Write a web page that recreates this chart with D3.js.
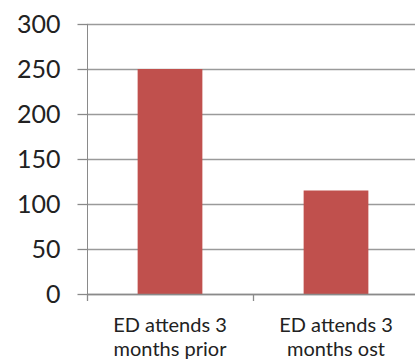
<!DOCTYPE html>
<html>
<head>
<meta charset="utf-8">
<script src="https://cdn.jsdelivr.net/npm/d3@7"></script>
<style>
  body { margin: 0; background: #fff; }
  svg { display: block; }
</style>
</head>
<body>
<svg id="chart"></svg>
<script>
const categories = [["ED attends 3", "months prior"], ["ED attends 3", "months ost"]];
const values = [250, 115];
const yTicks = [0, 50, 100, 150, 200, 250, 300];

const w = 415;
const h = 361;
const padLeft = 87;
const padTop = 24;
const axisY = 294;

const svg = d3.select("#chart").attr("width", w).attr("height", h);

const xScale = d3.scaleBand()
  .domain(d3.range(categories.length))
  .range([padLeft, 419])
  .paddingInner(0)
  .paddingOuter(0);

const yScale = d3.scaleLinear()
  .domain([0, 300])
  .range([axisY, padTop]);

// gridlines
svg.append("g")
  .selectAll("line")
  .data(yTicks)
  .enter()
  .append("line")
  .attr("x1", padLeft)
  .attr("x2", w)
  .attr("y1", d => yScale(d) + 0.5)
  .attr("y2", d => yScale(d) + 0.5)
  .attr("stroke", "#9a9a9a")
  .attr("stroke-width", 1.3);

// bars
const bw = xScale.bandwidth() * 0.39;
svg.selectAll("rect")
  .data(values)
  .enter()
  .append("rect")
  .attr("x", (d, i) => xScale(i) + xScale.bandwidth() / 2 - bw / 2)
  .attr("y", d => yScale(d))
  .attr("width", bw)
  .attr("height", d => axisY - yScale(d))
  .attr("fill", "#c0504d");

// y axis
const yAxis = d3.axisLeft(yScale).tickValues(yTicks).tickSize(10).tickPadding(17);
svg.append("g")
  .attr("transform", "translate(" + (padLeft + 0.5) + ",0)")
  .call(yAxis)
  .call(g => g.select(".domain").attr("stroke", "#8a8a8a").attr("d", "M0," + padTop + "V" + (axisY + 0.5)))
  .call(g => g.selectAll(".tick line").attr("stroke", "#8a8a8a").attr("stroke-width", 1.3))
  .call(g => g.selectAll(".tick text")
    .attr("font-family", "Lato")
    .attr("font-size", 25)
    .attr("fill", "#222"));

// x axis
const xAxisG = svg.append("g");
xAxisG.append("line")
  .attr("x1", padLeft)
  .attr("x2", w)
  .attr("y1", axisY + 0.5)
  .attr("y2", axisY + 0.5)
  .attr("stroke", "#8a8a8a")
  .attr("stroke-width", 1.3);
xAxisG.selectAll("line.tk")
  .data(d3.range(categories.length + 1))
  .enter()
  .append("line")
  .attr("class", "tk")
  .attr("x1", i => (i < categories.length ? xScale(i) : xScale.range()[1]) + 0.5)
  .attr("x2", i => (i < categories.length ? xScale(i) : xScale.range()[1]) + 0.5)
  .attr("y1", axisY)
  .attr("y2", axisY + 7)
  .attr("stroke", "#8a8a8a")
  .attr("stroke-width", 1.3);

const labels = xAxisG.selectAll("text")
  .data(categories)
  .enter()
  .append("text")
  .attr("x", (d, i) => xScale(i) + xScale.bandwidth() / 2)
  .attr("y", 332)
  .attr("text-anchor", "middle")
  .attr("font-family", "Lato")
  .attr("font-size", 20)
  .attr("fill", "#222");

labels.selectAll("tspan")
  .data(d => d)
  .enter()
  .append("tspan")
  .attr("x", function () { return this.parentNode.getAttribute("x"); })
  .attr("dy", (d, j) => j === 0 ? 0 : 24)
  .text(d => d);
</script>
</body>
</html>
